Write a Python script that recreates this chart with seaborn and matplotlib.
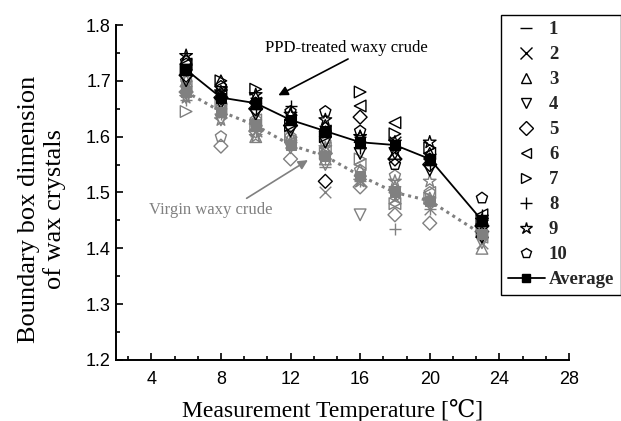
import matplotlib
matplotlib.use("Agg")
import matplotlib.pyplot as plt
from matplotlib.lines import Line2D
from matplotlib.ticker import AutoMinorLocator, MultipleLocator
import numpy as np
import pandas as pd
import seaborn as sns

temps = [6, 8, 10, 12, 14, 16, 18, 20, 23]
sample_labels = ["1", "2", "3", "4", "5", "6", "7", "8", "9", "10"]

ppd = {
    "1":  [1.71, 1.67, 1.65, 1.62, 1.60, 1.58, 1.58, 1.55, 1.44],
    "2":  [1.72, 1.68, 1.66, 1.63, 1.61, 1.59, 1.59, 1.56, 1.45],
    "3":  [1.74, 1.70, 1.67, 1.64, 1.62, 1.60, 1.57, 1.57, 1.43],
    "4":  [1.70, 1.66, 1.64, 1.61, 1.59, 1.57, 1.57, 1.54, 1.42],
    "5":  [1.71, 1.67, 1.65, 1.62, 1.52, 1.635, 1.56, 1.55, 1.44],
    "6":  [1.73, 1.68, 1.66, 1.63, 1.61, 1.655, 1.625, 1.57, 1.46],
    "7":  [1.72, 1.70, 1.685, 1.62, 1.60, 1.68, 1.605, 1.58, 1.45],
    "8":  [1.72, 1.67, 1.65, 1.655, 1.61, 1.58, 1.58, 1.55, 1.46],
    "9":  [1.745, 1.68, 1.675, 1.64, 1.63, 1.60, 1.59, 1.59, 1.45],
    "10": [1.735, 1.69, 1.66, 1.645, 1.645, 1.61, 1.55, 1.56, 1.49],
}
ppd_avg = [1.72, 1.67, 1.66, 1.63, 1.61, 1.59, 1.585, 1.56, 1.45]

virgin = {
    "1":  [1.68, 1.64, 1.62, 1.58, 1.545, 1.53, 1.50, 1.48, 1.42],
    "2":  [1.69, 1.65, 1.61, 1.59, 1.50, 1.52, 1.49, 1.47, 1.41],
    "3":  [1.70, 1.66, 1.60, 1.60, 1.56, 1.54, 1.51, 1.49, 1.40],
    "4":  [1.67, 1.63, 1.62, 1.58, 1.55, 1.46, 1.50, 1.48, 1.41],
    "5":  [1.68, 1.583, 1.61, 1.56, 1.57, 1.51, 1.46, 1.445, 1.43],
    "6":  [1.69, 1.65, 1.63, 1.59, 1.58, 1.55, 1.48, 1.50, 1.42],
    "7":  [1.645, 1.66, 1.62, 1.60, 1.57, 1.56, 1.48, 1.49, 1.43],
    "8":  [1.665, 1.64, 1.61, 1.59, 1.56, 1.52, 1.434, 1.47, 1.42],
    "9":  [1.67, 1.63, 1.60, 1.59, 1.58, 1.52, 1.52, 1.52, 1.44],
    "10": [1.70, 1.60, 1.63, 1.60, 1.59, 1.54, 1.53, 1.50, 1.44],
}
virgin_avg = [1.68, 1.645, 1.62, 1.585, 1.565, 1.53, 1.50, 1.485, 1.425]

markers = {"1": "_", "2": "x", "3": "^", "4": "v", "5": "D", "6": "<",
           "7": ">", "8": "+", "9": "*", "10": "p"}
msize = {"1": 80, "2": 70, "3": 70, "4": 70, "5": 50, "6": 70,
         "7": 70, "8": 80, "9": 90, "10": 70}

BLACK = "#000000"
GRAY = "#808080"

sns.set_theme(style="ticks")
plt.rcParams["font.family"] = ["Liberation Sans", "DejaVu Sans"]
SERIF = ["Liberation Serif", "DejaVu Serif"]

fig = plt.figure(figsize=(6.21, 4.21), dpi=100)
ax = fig.add_axes([0.1876, 0.145, 0.7286, 0.7956])

def draw_group(groupdata, color):
    for lab in sample_labels:
        df = pd.DataFrame({"T": temps, "D": groupdata[lab]})
        m = markers[lab]
        if m in ("x", "+", "_"):
            sns.scatterplot(data=df, x="T", y="D", marker=m, s=msize[lab],
                            color=color, linewidth=1.0, ax=ax, zorder=3)
        else:
            sns.scatterplot(data=df, x="T", y="D", marker=m, s=msize[lab],
                            facecolor="none", edgecolor=color, linewidth=1.0,
                            ax=ax, zorder=3)

draw_group(virgin, GRAY)
draw_group(ppd, BLACK)

dv = pd.DataFrame({"T": temps, "D": virgin_avg})
sns.lineplot(data=dv, x="T", y="D", color=GRAY, linestyle=(0, (1, 1.3)),
             linewidth=2.2, marker="s", markersize=7, markeredgecolor=GRAY,
             estimator=None, ax=ax, zorder=4)
dp = pd.DataFrame({"T": temps, "D": ppd_avg})
sns.lineplot(data=dp, x="T", y="D", color=BLACK, linestyle="-",
             linewidth=1.3, marker="s", markersize=7, markeredgecolor=BLACK,
             estimator=None, ax=ax, zorder=5)

ax.set_xlim(2, 28)
ax.set_ylim(1.2, 1.8)
ax.xaxis.set_major_locator(MultipleLocator(4))
ax.xaxis.set_minor_locator(AutoMinorLocator(3))
ax.yaxis.set_major_locator(MultipleLocator(0.1))
ax.yaxis.set_minor_locator(AutoMinorLocator(2))
ax.tick_params(axis="both", which="both", direction="in", colors="black",
               labelsize=13, width=1.2)
ax.tick_params(axis="both", which="major", length=5)
ax.tick_params(axis="both", which="minor", length=3)
ax.tick_params(axis="x", pad=8)
ax.tick_params(axis="y", pad=4)
ax.set_yticks([1.2, 1.3, 1.4, 1.5, 1.6, 1.7, 1.8])
ax.set_yticklabels(["1.2", "1.3", "1.4", "1.5", "1.6", "1.7", "1.8"])
for s in ["top", "right"]:
    ax.spines[s].set_visible(False)
for s in ["left", "bottom"]:
    ax.spines[s].set_color("black")
    ax.spines[s].set_linewidth(1.4)

ax.set_xlabel("Measurement Temperature [℃]", family=SERIF, fontsize=17,
              color="black")
ax.set_ylabel("Boundary box dimension\nof wax crystals", family=SERIF,
              fontsize=19, color="black", linespacing=1.15)
ax.xaxis.set_label_coords(0.478, -0.118)
ax.yaxis.set_label_coords(-0.112, 0.45)

ax.annotate("PPD-treated waxy crude", xy=(11.3, 1.674), xytext=(15.2, 1.745),
            family=SERIF, fontsize=12, color=BLACK, ha="center", va="bottom",
            arrowprops=dict(arrowstyle="-|>", color=BLACK, lw=1.2,
                            shrinkA=0, shrinkB=0, mutation_scale=14,
                            relpos=(0.55, 0.0)))
ax.annotate("Virgin waxy crude", xy=(13.0, 1.558), xytext=(7.4, 1.455),
            family=SERIF, fontsize=12, color=GRAY, ha="center", va="bottom",
            arrowprops=dict(arrowstyle="-|>", color=GRAY, lw=1.2,
                            shrinkA=0, shrinkB=0, mutation_scale=14,
                            relpos=(0.75, 1.0)))

handles = []
for lab in sample_labels:
    m = markers[lab]
    if m in ("x", "+", "_"):
        h = Line2D([], [], linestyle="none", marker=m, color=BLACK,
                   markersize=8, markeredgewidth=1.0)
    else:
        h = Line2D([], [], linestyle="none", marker=m, color=BLACK,
                   markerfacecolor="none", markersize=7 if m != "*" else 9,
                   markeredgewidth=1.0)
    handles.append(h)
handles.append(Line2D([], [], color=BLACK, linestyle="-", linewidth=1.3,
                      marker="s", markersize=6))
labels = sample_labels + ["Average"]

leg = fig.legend(handles, labels, loc="upper left",
                 bbox_to_anchor=(0.807, 0.965), frameon=True, fancybox=False,
                 edgecolor="black", framealpha=1,
                 prop={"family": SERIF, "weight": "bold", "size": 13.5},
                 handlelength=2.0, handletextpad=0.2, labelspacing=0.42,
                 borderpad=0.35, borderaxespad=0)
leg.get_frame().set_linewidth(1.0)

fig.savefig("out.png", dpi=100)
